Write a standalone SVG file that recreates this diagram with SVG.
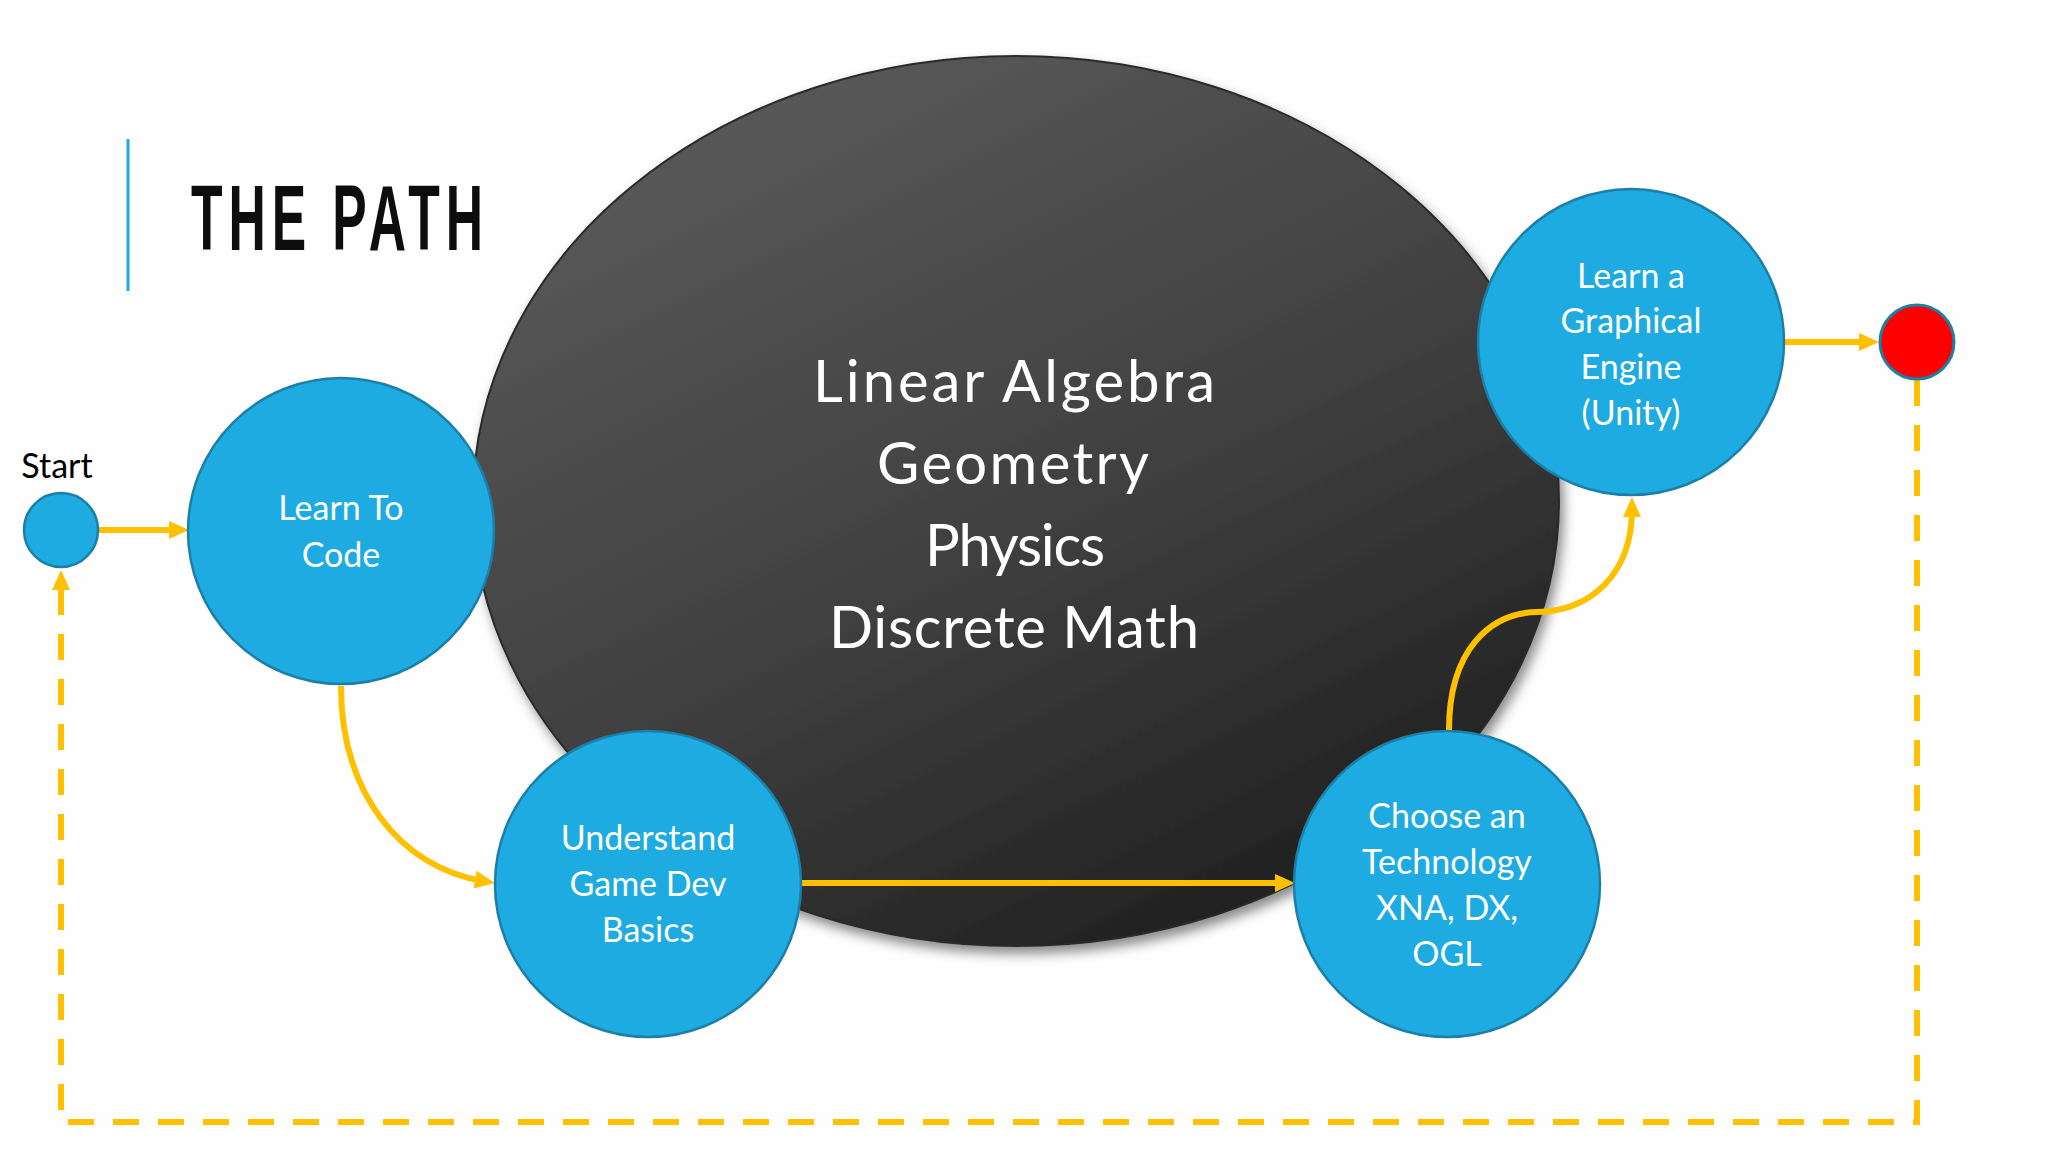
<svg xmlns="http://www.w3.org/2000/svg" width="2048" height="1152" viewBox="0 0 2048 1152">
  <defs>
    <linearGradient id="darkGrad" x1="0.25" y1="0" x2="0.85" y2="1">
      <stop offset="0" stop-color="#5a5a5a"/>
      <stop offset="0.5" stop-color="#404040"/>
      <stop offset="1" stop-color="#1a1a1a"/>
    </linearGradient>
    <filter id="shadow" x="-10%" y="-10%" width="125%" height="125%">
      <feDropShadow dx="4" dy="7" stdDeviation="6" flood-color="#000" flood-opacity="0.45"/>
    </filter>
    <marker id="arrow" viewBox="0 0 20 20" refX="8" refY="10" markerWidth="20" markerHeight="20" markerUnits="userSpaceOnUse" orient="auto">
      <path d="M0,1 L20,10 L0,19 z" fill="#FFC000"/>
    </marker>
    <style>
      .node { fill: #1DABE2; stroke: #1B7FA6; stroke-width: 2.5; }
      .end { fill: #FF0000; stroke: #1B7FA6; stroke-width: 3; }
      .lbl { font-family: Lato, "Open Sans", "DejaVu Sans", sans-serif; font-size: 34px; fill: #FFFFFF; text-anchor: middle; }
      .big { font-family: Lato, "Open Sans", "DejaVu Sans", sans-serif; font-size: 58px; fill: #FFFFFF; text-anchor: middle; }
      .conn { fill: none; stroke: #FFC000; stroke-width: 6; marker-end: url(#arrow); }
      .dash { fill: none; stroke: #FFC000; stroke-width: 6; stroke-dasharray: 26 19; marker-end: url(#arrow); }
    </style>
  </defs>

  <rect x="0" y="0" width="2048" height="1152" fill="#FEFEFE"/>

  <g id="title">
    <line x1="128" y1="139" x2="128" y2="291" stroke="#1DABE2" stroke-width="3"/>
    <text transform="translate(191,250) scale(0.555,1)" x="0" y="0" font-family="'Liberation Sans', Arial, sans-serif" font-size="93" font-weight="bold" fill="#0D0D0D" textLength="526" lengthAdjust="spacing">THE PATH</text>
  </g>

  <g id="math-ellipse">
    <ellipse cx="1016" cy="501" rx="543" ry="445" fill="url(#darkGrad)" stroke="#2a2a2a" stroke-width="2" filter="url(#shadow)"/>
    <text class="big" x="1014" y="402" textLength="402" lengthAdjust="spacing">Linear Algebra</text>
    <text class="big" x="1013" y="484" textLength="272" lengthAdjust="spacing">Geometry</text>
    <text class="big" x="1015" y="566" textLength="180" lengthAdjust="spacing">Physics</text>
    <text class="big" x="1014" y="648" textLength="370" lengthAdjust="spacing">Discrete Math</text>
  </g>

  <g id="connectors">
    <line class="conn" x1="99" y1="530" x2="177" y2="530"/>
    <path class="conn" d="M341,686 C341,790 398,867 483,881"/>
    <line class="conn" x1="801" y1="883" x2="1283" y2="883"/>
    <path class="conn" d="M1449,730 C1449,650 1490,613 1537,612 C1590,611 1632,575 1632,509"/>
    <line class="conn" x1="1784" y1="342" x2="1867" y2="342"/>
    <path class="dash" d="M1917,380 L1917,1122 L61,1122 L61,582"/>
  </g>

  <g id="start-node">
    <circle class="node" cx="61" cy="530" r="37"/>
    <text x="57" y="478" font-family="Lato, 'Open Sans', sans-serif" font-size="34" fill="#000000" text-anchor="middle">Start</text>
  </g>

  <g id="learn-to-code">
    <circle class="node" cx="341" cy="531" r="153"/>
    <text class="lbl" x="341" y="520">Learn To</text>
    <text class="lbl" x="341" y="567">Code</text>
  </g>

  <g id="understand-basics">
    <circle class="node" cx="648" cy="884" r="153"/>
    <text class="lbl" x="648" y="850">Understand</text>
    <text class="lbl" x="648" y="896">Game Dev</text>
    <text class="lbl" x="648" y="942">Basics</text>
  </g>

  <g id="choose-technology">
    <circle class="node" cx="1447" cy="884" r="153"/>
    <text class="lbl" x="1447" y="828">Choose an</text>
    <text class="lbl" x="1447" y="874">Technology</text>
    <text class="lbl" x="1447" y="920">XNA, DX,</text>
    <text class="lbl" x="1447" y="966">OGL</text>
  </g>

  <g id="learn-engine">
    <circle class="node" cx="1631" cy="342" r="153"/>
    <text class="lbl" x="1631" y="288">Learn a</text>
    <text class="lbl" x="1631" y="333">Graphical</text>
    <text class="lbl" x="1631" y="379">Engine</text>
    <text class="lbl" x="1631" y="425">(Unity)</text>
  </g>

  <g id="end-node">
    <circle class="end" cx="1917" cy="342" r="37"/>
  </g>
</svg>
